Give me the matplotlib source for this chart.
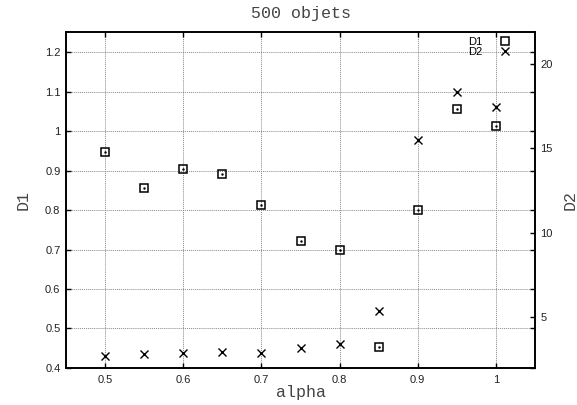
import matplotlib
matplotlib.use("Agg")
import matplotlib.pyplot as plt

# data
alpha = [0.5, 0.55, 0.6, 0.65, 0.7, 0.75, 0.8, 0.85, 0.9, 0.95, 1.0]
d1 = [0.946, 0.855, 0.903, 0.891, 0.812, 0.721, 0.698, 0.452, 0.799, 1.056, 1.013]
d2 = [2.74, 2.82, 2.90, 2.98, 2.90, 3.20, 3.45, 5.39, 15.49, 18.35, 17.44]

xticks = [0.5, 0.6, 0.7, 0.8, 0.9, 1.0]
xlabels = ["0.5", "0.6", "0.7", "0.8", "0.9", "1"]
y1ticks = [0.4, 0.5, 0.6, 0.7, 0.8, 0.9, 1.0, 1.1, 1.2]
y1labels = ["0.4", "0.5", "0.6", "0.7", "0.8", "0.9", "1", "1.1", "1.2"]
y2ticks = [5, 10, 15, 20]

mono = "Liberation Mono"
sans = "Liberation Sans"
txt = "#444444"
tick_txt = "#222222"

fig = plt.figure(figsize=(5.77, 4.05), dpi=100)
ax = fig.add_axes([0.1144, 0.0914, 0.8128, 0.8288])
ax2 = ax.twinx()

# D1 : open squares with a dot in the middle
h1, = ax.plot(alpha, d1, linestyle="none", marker="s", markersize=5.5,
              markerfacecolor="none", markeredgecolor="black", markeredgewidth=1.1,
              label="D1")
ax.plot(alpha, d1, linestyle="none", marker=".", markersize=1.5, color="black")
# D2 : crosses on the right axis
h2, = ax2.plot(alpha, d2, linestyle="none", marker="x", markersize=5.5,
               color="black", markeredgewidth=1.0, label="D2")

ax.set_xlim(0.45, 1.05)
ax.set_ylim(0.4, 1.25)
ax2.set_ylim(2.01, 21.85)

ax.set_xticks(xticks)
ax.set_xticklabels(xlabels, fontfamily=sans, fontsize=8, color=tick_txt)
ax.set_yticks(y1ticks)
ax.set_yticklabels(y1labels, fontfamily=sans, fontsize=8, color=tick_txt)
ax2.set_yticks(y2ticks)
ax2.set_yticklabels([str(t) for t in y2ticks], fontfamily=sans, fontsize=8, color=tick_txt)

ax.tick_params(direction="in", length=3.3, width=1, top=True, right=True)
ax.tick_params(axis="x", pad=5)
ax.tick_params(axis="y", pad=4)
ax2.tick_params(direction="in", length=3.3, width=1, pad=4)

ax.grid(True, color="#888888", linestyle=(0, (1, 1)), linewidth=0.7)
ax.set_axisbelow(True)

for a in (ax, ax2):
    for s in a.spines.values():
        s.set_linewidth(1.2)

ax.set_title("500 objets", fontfamily=mono, fontsize=12, color=txt, pad=10)
ax.set_xlabel("alpha", fontfamily=mono, fontsize=12, color=txt, labelpad=0)
ax.set_ylabel("D1", fontfamily=mono, fontsize=12, color=txt, labelpad=10)
ax2.set_ylabel("D2", fontfamily=mono, fontsize=12, color=txt, labelpad=7)

leg = ax.legend([h1, h2], ["D1", "D2"], loc="upper right",
                bbox_to_anchor=(0.948, 0.987), frameon=False,
                markerfirst=False, prop={"family": sans, "size": 8},
                handlelength=1.0, handletextpad=1.5, labelspacing=0.0,
                borderaxespad=0, borderpad=0)

fig.savefig("out.png", dpi=100)
